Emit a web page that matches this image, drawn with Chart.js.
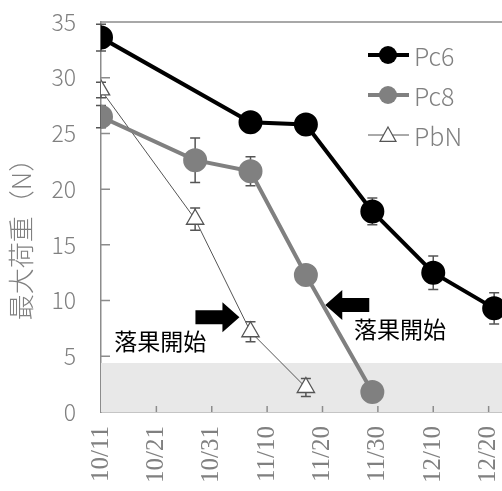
<!DOCTYPE html>
<html>
<head>
<meta charset="utf-8">
<script src="https://cdn.jsdelivr.net/npm/chart.js@4.4.0/dist/chart.umd.min.js"></script>
<style>
  html, body { margin: 0; padding: 0; overflow: hidden; background: #fff; }
  #wrap { width: 580px; height: 491px; }
</style>
</head>
<body>
<div id="wrap"><canvas id="grafica"></canvas></div>
<script>
// Datos (días desde 10/11)
const tickLabels = ['10/11', '10/21', '10/31', '11/10', '11/20', '11/30', '12/10', '12/20', '12/30'];

const pc6Dias = [0, 27, 37, 49, 60, 71];
const pc6Valores = [33.6, 26.0, 25.8, 18.0, 12.5, 9.3];
const pc6Error = [1.2, 0.4, 0.4, 1.2, 1.5, 1.4];

const pc8Dias = [0, 17, 27, 37, 49];
const pc8Valores = [26.5, 22.6, 21.6, 12.3, 1.8];
const pc8Error = [1.0, 2.0, 1.3, 0.4, 0.3];

const pbnDias = [0, 17, 27, 37];
const pbnValores = [28.9, 17.3, 7.2, 2.2];
const pbnError = [0.7, 1.0, 0.9, 0.8];

const zonaGris = 4.4; // banda gris inferior

const gris = '#808080';
const fuente = "'Noto Sans CJK JP', 'Noto Sans', sans-serif";

function puntos(dias, valores) {
    return dias.map((d, i) => ({ x: d, y: valores[i] }));
}

const erroresPorDataset = [pc6Error, pc8Error, pbnError];

// Banda gris, borde superior, marcas hacia adentro y barras de error
const fondoPlugin = {
    id: 'fondo',
    beforeDatasetsDraw(chart) {
        const { ctx, chartArea, scales } = chart;
        const y0 = scales.y.getPixelForValue(0);
        const y1 = scales.y.getPixelForValue(zonaGris);
        ctx.save();
        ctx.fillStyle = '#e8e8e8';
        ctx.fillRect(chartArea.left, y1, chartArea.right - chartArea.left, y0 - y1);

        ctx.strokeStyle = '#8c8c8c';
        ctx.lineWidth = 1.5;
        ctx.beginPath();
        ctx.moveTo(chartArea.left, chartArea.top);
        ctx.lineTo(chartArea.right, chartArea.top);
        for (let v = 5; v <= 30; v += 5) {
            const py = scales.y.getPixelForValue(v);
            ctx.moveTo(chartArea.left, py);
            ctx.lineTo(chartArea.left + 9, py);
        }
        for (let d = 10; d <= 80; d += 10) {
            const px = scales.x.getPixelForValue(d);
            ctx.moveTo(px, chartArea.bottom);
            ctx.lineTo(px, chartArea.bottom - 6);
        }
        ctx.stroke();

        chart.data.datasets.forEach((ds, i) => {
            const errs = erroresPorDataset[i];
            ctx.strokeStyle = ds.errorColor;
            ctx.lineWidth = 1.5;
            ds.data.forEach((p, j) => {
                const px = scales.x.getPixelForValue(p.x);
                const top = scales.y.getPixelForValue(p.y + errs[j]);
                const bot = scales.y.getPixelForValue(p.y - errs[j]);
                ctx.beginPath();
                ctx.moveTo(px, top);
                ctx.lineTo(px, bot);
                ctx.moveTo(px - 5, top);
                ctx.lineTo(px + 5, top);
                ctx.moveTo(px - 5, bot);
                ctx.lineTo(px + 5, bot);
                ctx.stroke();
            });
        });

        // título del eje y
        ctx.save();
        ctx.translate(21, (chartArea.top + chartArea.bottom) / 2 + 16);
        ctx.rotate(-Math.PI / 2);
        ctx.fillStyle = gris;
        ctx.font = '300 26px ' + fuente;
        ctx.textAlign = 'center';
        ctx.textBaseline = 'middle';
        ctx.fillText('最大荷重（N）', 0, 0);
        ctx.restore();
        ctx.restore();
    }
};

// Flechas y texto "落果開始"
function flecha(ctx, tipX, tipY, dir) {
    const largo = 44, cabeza = 17, alto = 15, cuerpo = 7;
    ctx.beginPath();
    ctx.moveTo(tipX, tipY);
    ctx.lineTo(tipX - dir * cabeza, tipY - alto);
    ctx.lineTo(tipX - dir * cabeza, tipY - cuerpo);
    ctx.lineTo(tipX - dir * largo, tipY - cuerpo);
    ctx.lineTo(tipX - dir * largo, tipY + cuerpo);
    ctx.lineTo(tipX - dir * cabeza, tipY + cuerpo);
    ctx.lineTo(tipX - dir * cabeza, tipY + alto);
    ctx.closePath();
    ctx.fill();
}

const anotacionPlugin = {
    id: 'anotacion',
    afterDatasetsDraw(chart) {
        const { ctx, scales } = chart;
        ctx.save();
        ctx.fillStyle = '#000';
        flecha(ctx, scales.x.getPixelForValue(25.0), scales.y.getPixelForValue(8.5), 1);
        flecha(ctx, scales.x.getPixelForValue(40.5), scales.y.getPixelForValue(9.6), -1);
        ctx.font = '23px ' + fuente;
        ctx.textBaseline = 'alphabetic';
        ctx.fillText('落果開始', scales.x.getPixelForValue(2.4), scales.y.getPixelForValue(5.6));
        ctx.fillText('落果開始', scales.x.getPixelForValue(45.7), scales.y.getPixelForValue(6.6));

        // leyenda
        const items = [
            { label: 'Pc6', color: '#000', width: 4, fill: '#000', style: 'circle', r: 9 },
            { label: 'Pc8', color: gris, width: 4, fill: gris, style: 'circle', r: 9 },
            { label: 'PbN', color: '#555', width: 1, fill: '#fff', style: 'triangle', r: 8 }
        ];
        const lx = 368, ly = 55, paso = 40;
        items.forEach((it, i) => {
            const y = ly + i * paso;
            ctx.strokeStyle = it.color;
            ctx.lineWidth = it.width;
            ctx.beginPath();
            ctx.moveTo(lx, y);
            ctx.lineTo(lx + 41, y);
            ctx.stroke();
            ctx.fillStyle = it.fill;
            ctx.lineWidth = 1.2;
            ctx.beginPath();
            if (it.style === 'circle') {
                ctx.arc(lx + 20, y, it.r, 0, Math.PI * 2);
                ctx.fill();
            } else {
                ctx.moveTo(lx + 20, y - it.r);
                ctx.lineTo(lx + 20 + it.r, y + it.r * 0.8);
                ctx.lineTo(lx + 20 - it.r, y + it.r * 0.8);
                ctx.closePath();
                ctx.fill();
                ctx.stroke();
            }
            ctx.fillStyle = gris;
            ctx.font = '300 25px ' + fuente;
            ctx.textBaseline = 'middle';
            ctx.fillText(it.label, lx + 46, y + 1);
        });
        ctx.restore();
    }
};

const ctx = document.getElementById('grafica').getContext('2d');

new Chart(ctx, {
    type: 'line',
    data: {
        datasets: [
            {
                label: 'Pc6',
                data: puntos(pc6Dias, pc6Valores),
                borderColor: '#000',
                backgroundColor: '#000',
                borderWidth: 4,
                pointRadius: 10,
                pointStyle: 'circle',
                errorColor: '#555'
            },
            {
                label: 'Pc8',
                data: puntos(pc8Dias, pc8Valores),
                borderColor: gris,
                backgroundColor: gris,
                borderWidth: 4,
                pointRadius: 10,
                pointStyle: 'circle',
                errorColor: '#555'
            },
            {
                label: 'PbN',
                data: puntos(pbnDias, pbnValores),
                borderColor: '#555',
                backgroundColor: '#fff',
                borderWidth: 1,
                pointRadius: 10,
                pointBorderWidth: 1.3,
                pointStyle: 'triangle',
                errorColor: '#555'
            }
        ]
    },
    options: {
        responsive: true,
        maintainAspectRatio: false,
        animation: false,
        layout: { padding: { top: 22, right: 25, left: 0, bottom: 0 } },
        plugins: {
            legend: { display: false },
            tooltip: { enabled: false }
        },
        scales: {
            x: {
                type: 'linear',
                min: 0,
                max: 80,
                afterFit(scale) { scale.height = 79; },
                ticks: {
                    stepSize: 10,
                    minRotation: 90,
                    maxRotation: 90,
                    autoSkip: false,
                    padding: 6,
                    color: gris,
                    font: { family: "'Liberation Serif', serif", size: 25 },
                    callback: function(v) { return tickLabels[Math.round(v / 10)]; }
                },
                grid: { display: false, tickLength: 8 },
                border: { display: true, color: '#8c8c8c', width: 1.5 }
            },
            y: {
                min: 0,
                max: 35,
                afterFit(scale) { scale.width = 101; },
                ticks: {
                    stepSize: 5,
                    padding: 0,
                    color: gris,
                    font: { family: fuente, size: 23, weight: 300 }
                },
                grid: { display: false, tickLength: 25 },
                border: { display: true, color: '#8c8c8c', width: 1.5 }
            }
        }
    },
    plugins: [fondoPlugin, anotacionPlugin]
});
</script>
</body>
</html>
